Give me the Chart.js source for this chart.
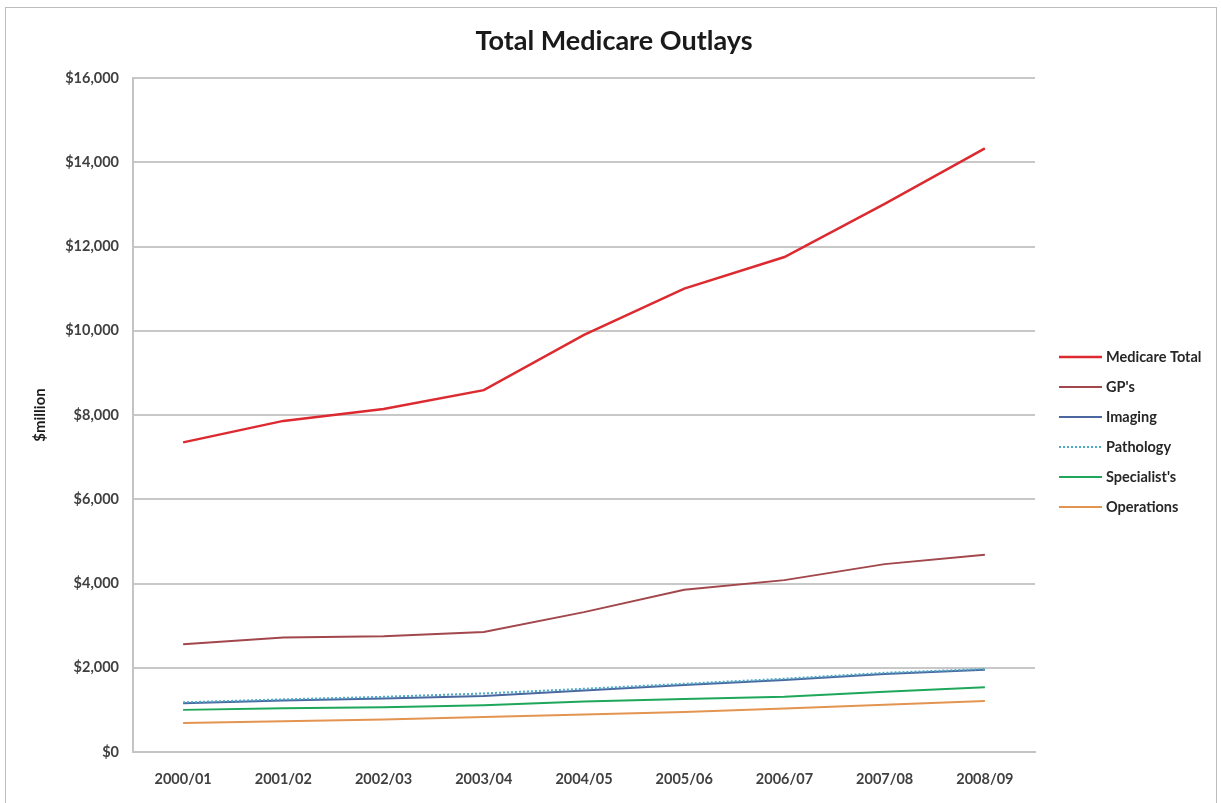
<!DOCTYPE html>
<html>
<head>
<meta charset="utf-8">
<title>Total Medicare Outlays</title>
<script src="https://cdn.jsdelivr.net/npm/chart.js@4/dist/chart.umd.min.js"></script>
<style>
    html, body { margin: 0; padding: 0; background: #fff; }
    #wrap { position: relative; width: 1221px; height: 803px; }
    #frame {
        position: absolute; left: 5px; top: 7px; width: 1212px; height: 800px;
        border: 1px solid #bdbdbd; border-bottom: none; box-sizing: border-box;
    }
    canvas { position: absolute; left: 0; top: 0; }
</style>
</head>
<body>
<div id="wrap">
    <div id="frame"></div>
    <canvas id="outlaysChart" width="1221" height="803"></canvas>
</div>
<script>
// Chart data ($ million)
const years = ['2000/01', '2001/02', '2002/03', '2003/04', '2004/05', '2005/06', '2006/07', '2007/08', '2008/09'];
const medicareTotal = [7350, 7860, 8140, 8590, 9900, 11000, 11750, 13010, 14330];
const gps = [2560, 2720, 2750, 2850, 3320, 3850, 4080, 4460, 4680];
const imaging = [1160, 1220, 1270, 1330, 1460, 1590, 1710, 1850, 1950];
const pathology = [1180, 1250, 1310, 1390, 1500, 1620, 1740, 1880, 1970];
const specialists = [1000, 1040, 1060, 1110, 1200, 1260, 1310, 1430, 1540];
const operations = [690, 730, 770, 830, 890, 950, 1030, 1120, 1210];
const yTicks = [0, 2000, 4000, 6000, 8000, 10000, 12000, 14000, 16000];

const seriesNames = ['Medicare Total', "GP's", 'Imaging', 'Pathology', "Specialist's", 'Operations'];
const seriesColors = ['#dc2a30', '#a2474b', '#4a67a0', '#4bacc6', '#1ea75a', '#e39450'];
const seriesValues = [medicareTotal, gps, imaging, pathology, specialists, operations];

const FONT = 'Lato, "Open Sans", sans-serif';

document.addEventListener('DOMContentLoaded', function() {
    drawOutlaysChart();
});

// Title centred on the whole frame and legend on the right, like the spreadsheet chart
const frameDecor = {
    id: 'frameDecor',
    afterDraw(chart) {
        const ctx = chart.ctx;
        ctx.save();
        ctx.fillStyle = '#1a1a1a';
        ctx.font = 'bold 27px ' + FONT;
        ctx.textAlign = 'center';
        ctx.textBaseline = 'middle';
        ctx.fillText('Total Medicare Outlays', 614, 41);

        const x0 = 1059, lineW = 43, top = 357, step = 30;
        ctx.textAlign = 'left';
        chart.data.datasets.forEach((ds, i) => {
            const y = top + i * step;
            ctx.beginPath();
            ctx.setLineDash(ds.borderDash || []);
            ctx.strokeStyle = ds.borderColor;
            ctx.lineWidth = ds.borderWidth;
            ctx.moveTo(x0, y);
            ctx.lineTo(x0 + lineW, y);
            ctx.stroke();
            ctx.setLineDash([]);
            ctx.fillStyle = '#262626';
            ctx.font = 'bold 14.5px ' + FONT;
            ctx.fillText(ds.label, x0 + lineW + 4, y);
        });
        ctx.restore();
    }
};

function drawOutlaysChart() {
    const ctx = document.getElementById('outlaysChart');
    const datasets = seriesNames.map((name, i) => ({
        label: name,
        data: seriesValues[i],
        borderColor: seriesColors[i],
        backgroundColor: seriesColors[i],
        borderWidth: i === 0 ? 2.5 : 2,
        borderDash: name === 'Pathology' ? [2, 2] : [],
        pointRadius: 0,
        tension: 0,
        order: 5 - i
    }));

    new Chart(ctx, {
        type: 'line',
        data: { labels: years, datasets: datasets },
        options: {
            responsive: false,
            animation: false,
            layout: { padding: { left: 0, right: 186, top: 78, bottom: 11 } },
            plugins: {
                legend: { display: false },
                tooltip: { enabled: false },
                title: { display: false }
            },
            scales: {
                x: {
                    offset: true,
                    grid: { display: false, drawTicks: false },
                    border: { display: true, color: '#c4c4c4', width: 2 },
                    ticks: {
                        color: '#404040',
                        padding: 19,
                        maxRotation: 0,
                        font: { family: FONT, size: 14.5, weight: 'bold' }
                    },
                    afterFit: scale => { scale.height = 40; }
                },
                y: {
                    min: 0,
                    max: 16000,
                    afterBuildTicks: scale => { scale.ticks = yTicks.map(v => ({ value: v })); },
                    grid: { color: '#c8c8c8', lineWidth: 2, drawTicks: false },
                    border: { display: true, color: '#c4c4c4', width: 2 },
                    ticks: {
                        color: '#404040',
                        padding: 14,
                        font: { family: FONT, size: 14.5, weight: 'bold' },
                        callback: v => '$' + v.toLocaleString('en-US')
                    },
                    title: {
                        display: true,
                        text: '$million',
                        color: '#1a1a1a',
                        font: { family: FONT, size: 15, weight: 'bold' },
                        padding: { top: 31, bottom: 0 }
                    },
                    afterFit: scale => { scale.width = 133; }
                }
            }
        },
        plugins: [frameDecor]
    });
}
</script>
</body>
</html>
